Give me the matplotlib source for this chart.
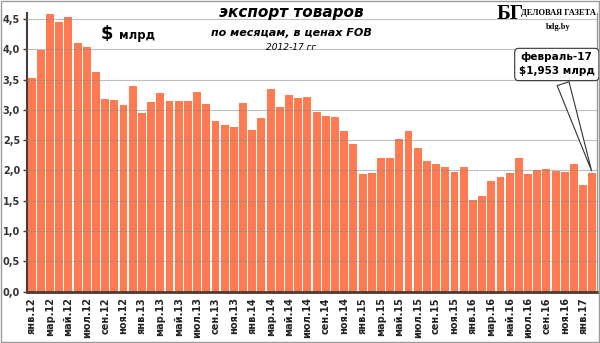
"""Monthly goods export of Belarus, FOB prices, Jan 2012 - Feb 2017 (bar chart)."""

import matplotlib
matplotlib.use("Agg")
import matplotlib.pyplot as plt  # noqa: E402
from matplotlib.patches import Rectangle  # noqa: E402

# ---- data ----
months = ["янв", "фев", "мар", "апр", "май", "июн",
          "июл", "авг", "сен", "окт", "ноя", "дек"]
years = ["12", "13", "14", "15", "16", "17"]
month_labels = [f"{m}.{y}" for y in years for m in months][:62]

export_bln = [
    3.53, 3.99, 4.58, 4.45, 4.54, 4.10, 4.04, 3.62, 3.18, 3.17, 3.08, 3.39,   # 2012
    2.95, 3.13, 3.28, 3.15, 3.15, 3.15, 3.29, 3.09, 2.82, 2.75, 2.72, 3.12,   # 2013
    2.66, 2.86, 3.35, 3.04, 3.25, 3.20, 3.21, 2.97, 2.90, 2.89, 2.65, 2.44,   # 2014
    1.94, 1.96, 2.21, 2.21, 2.52, 2.65, 2.37, 2.15, 2.10, 2.05, 1.98, 2.05,   # 2015
    1.52, 1.57, 1.82, 1.89, 1.96, 2.20, 1.94, 2.01, 2.02, 1.99, 1.98, 2.10,   # 2016
    1.76, 1.953,                                                             # 2017
]
y_ticks = [0.0, 0.5, 1.0, 1.5, 2.0, 2.5, 3.0, 3.5, 4.0, 4.5]
callout_text = "февраль-17\n$1,953 млрд"

BAR = "#ff7a50"
GRID = "#8c8c8c"
AXIS = "#4d3b33"

fig = plt.figure(figsize=(6.0, 3.43), dpi=100)
ax = fig.add_axes([0.045, 0.150, 0.950, 0.812])

x = list(range(len(export_bln)))
ax.bar(x, export_bln, width=0.86, color=BAR, edgecolor="none", zorder=2)

ax.set_xlim(-0.5, len(export_bln) - 0.5)
ax.set_ylim(0, 4.6)
ax.set_yticks(y_ticks)
ax.set_yticklabels([f"{v:.1f}".replace(".", ",") for v in y_ticks],
                   fontsize=7, fontweight="bold", color="#333333")
ax.set_xticks(x[::2])
ax.set_xticklabels(month_labels[::2], rotation=90, fontsize=7,
                   fontweight="bold", color="#222222")
ax.tick_params(axis="x", length=0, pad=4)
ax.tick_params(axis="y", length=3, width=1, color=AXIS, pad=2)

for v in y_ticks[1:]:
    ax.axhline(v, color=GRID, lw=0.8, alpha=0.55, zorder=3)

ax.spines["top"].set_visible(False)
ax.spines["left"].set_color(AXIS)
ax.spines["left"].set_linewidth(1.5)
ax.spines["bottom"].set_color(AXIS)
ax.spines["bottom"].set_linewidth(2)
ax.spines["right"].set_color("#9a9a9a")
ax.spines["right"].set_linewidth(1)

# titles
fig.text(0.485, 0.965, "экспорт товаров", ha="center", va="center",
         fontsize=11, fontweight="bold", style="italic")
fig.text(0.485, 0.905, "по месяцам, в ценах FOB", ha="center", va="center",
         fontsize=8, fontweight="bold", style="italic")
fig.text(0.485, 0.862, "2012-17 гг", ha="center", va="center",
         fontsize=6.5, style="italic")
fig.text(0.178, 0.900, "$", ha="center", va="center",
         fontsize=13, fontweight="bold")
fig.text(0.198, 0.897, "млрд", ha="left", va="center",
         fontsize=8.5, fontweight="bold")

# logo
fig.text(0.828, 0.958, "БГ", ha="left", va="center", fontsize=15,
         fontweight="bold", family="Liberation Serif")
fig.text(0.868, 0.962, "ДЕЛОВАЯ ГАЗЕТА", ha="left", va="center", fontsize=6,
         fontweight="bold", family="Liberation Serif")
fig.text(0.930, 0.922, "bdg.by", ha="center", va="center", fontsize=6,
         fontweight="bold", family="Liberation Serif")

# callout to the last bar
ax.annotate(callout_text, xy=(x[-1], export_bln[-1]), xytext=(0.928, 0.812),
            textcoords="figure fraction", ha="center", va="center",
            fontsize=7.5, fontweight="bold", linespacing=1.5,
            bbox=dict(boxstyle="round,pad=0.4", fc="white", ec="#333333", lw=0.8),
            arrowprops=dict(arrowstyle="wedge,tail_width=1.2,shrink_factor=0.5",
                            fc="white", ec="#333333", lw=0.8),
            zorder=5)

# outer frame of the picture
fig.patches.append(Rectangle((0.002, 0.004), 0.996, 0.992, transform=fig.transFigure,
                             fill=False, ec="#9a9a9a", lw=1))

fig.savefig("out.png", dpi=100)
